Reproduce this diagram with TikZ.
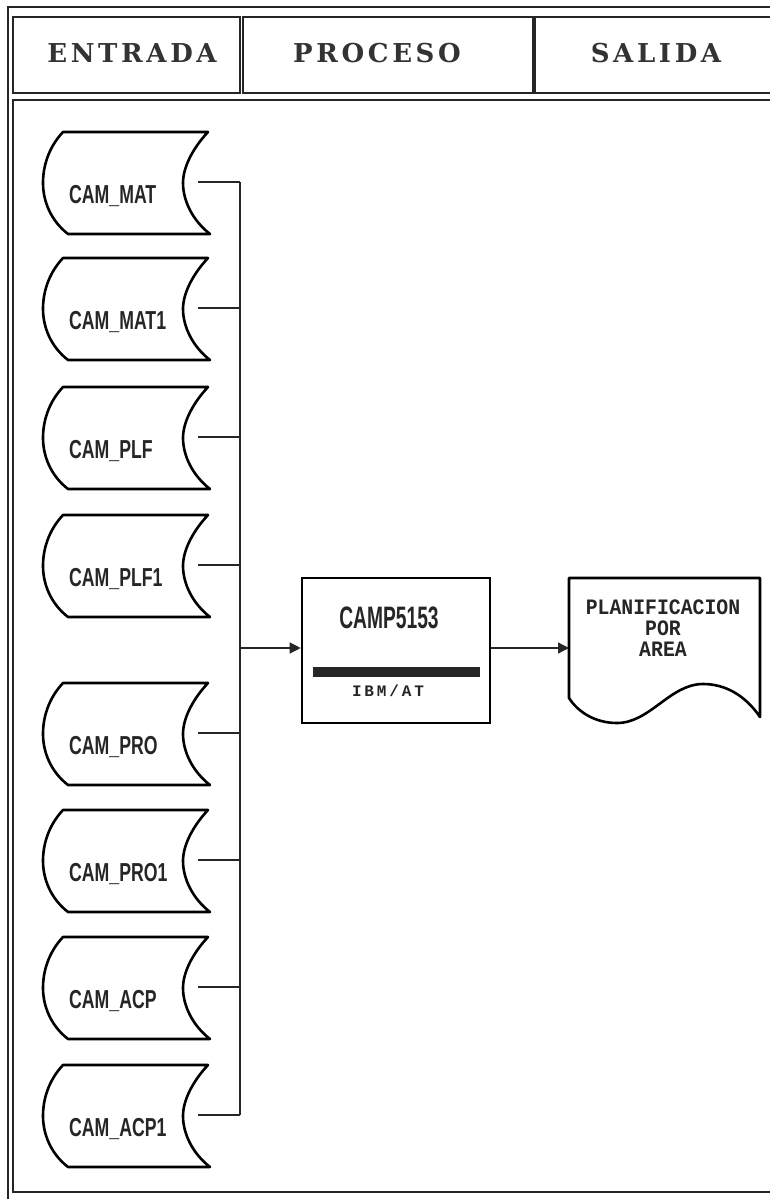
\documentclass[tikz,border=0pt]{standalone}
\usepackage{fontspec}
\usetikzlibrary{arrows.meta}
\newfontfamily\hdrfont[LetterSpace=14]{DejaVu Serif}
\newfontfamily\tapefont[FakeStretch=0.68]{Liberation Sans}
\newfontfamily\procfont[FakeStretch=0.62]{Liberation Sans}
\newfontfamily\docfont[FakeStretch=0.9]{Liberation Mono}
\newfontfamily\smallmono[LetterSpace=18]{Liberation Mono}
\tikzset{
  frame/.style={draw=black!85, line width=1.8pt},
  hbox/.style={frame, inner sep=0pt},
  hdrtext/.style={font=\hdrfont\bfseries\fontsize{26}{30}\selectfont, text=black!80},
  tape/.style={draw=black, line width=2.6pt, line join=round},
  tapelabel/.style={font=\tapefont\bfseries\fontsize{26}{28}\selectfont, text=black!85, inner sep=0pt},
  conn/.style={draw=black!85, line width=1.3pt},
  arr/.style={conn, -{Triangle[length=11pt,width=11pt]}},
  procbox/.style={draw=black, line width=2.6pt, inner sep=0pt, minimum width=188pt, minimum height=145pt},
}
\begin{document}
\begin{tikzpicture}[x=1pt,y=-1pt]
\useasboundingbox (0,0) rectangle (770,1199);
\fill[white] (0,0) rectangle (770,1199);
% frames
\draw[frame] (8,7) rectangle (790,1215);
\draw[frame] (13,100) rectangle (790,1192);
\node[hbox, minimum width=227pt, minimum height=76pt] (hin) at (126.5,55) {};
\node[hbox, minimum width=290pt, minimum height=76pt] (hproc) at (388,55) {};
\node[hbox, minimum width=250pt, minimum height=76pt] (hout) at (660,55) {};
\node[hdrtext] (tin) at (132,53) {ENTRADA};
\node[hdrtext] (tproc) at (377,53) {PROCESO};
\node[hdrtext] (tout) at (656,53) {SALIDA};
% tapes
\foreach \n/\t/\lab in {mat/132/CAM\_MAT, mata/258/CAM\_MAT1, plf/387/CAM\_PLF, plfa/515/CAM\_PLF1,
                         pro/683/CAM\_PRO, proa/810/CAM\_PRO1, acp/937/CAM\_ACP, acpa/1065/CAM\_ACP1}{
  \draw[tape] (63,\t) -- (208,\t)
     .. controls (193,\t+16) and (183,\t+35) .. (183,\t+51)
     .. controls (183,\t+68) and (192,\t+88) .. (210,\t+102)
     -- (68,\t+102)
     .. controls (50,\t+88) and (43,\t+68) .. (43,\t+51)
     .. controls (43,\t+35) and (48,\t+16) .. cycle;
  \node[tapelabel, anchor=base west] (\n) at (69,\t+71) {\lab};
  \coordinate (\n-out) at (198,\t+50);
  \coordinate (\n-bus) at (240,\t+50);
  \draw[conn] (\n-out) -- (\n-bus);
}
\draw[conn] (mat-bus) -- (acpa-bus);
\coordinate (join) at (240,648);
% process
\node[procbox] (proc) at (396,650.5) {};
\node[font=\procfont\bfseries\fontsize{31}{34}\selectfont, text=black!85, inner sep=0pt] (pname) at (389,618) {CAMP5153};
\node[fill=black!85, minimum width=167pt, minimum height=10pt, inner sep=0pt] (bar) at (396.5,672) {};
\node[font=\smallmono\bfseries\fontsize{16}{18}\selectfont, text=black!85, inner sep=0pt] (pm) at (388,691) {IBM/AT};
\draw[arr] (join) -- (join -| proc.west);
% output document
\draw[tape] (569,578) -- (760,578) -- (760,717)
   .. controls (745,695) and (725,684) .. (703,684)
   .. controls (670,684) and (650,723) .. (617,723)
   .. controls (595,723) and (578,712) .. (569,698) -- cycle;
\coordinate (docW) at (569,648);
\node[font=\docfont\bfseries\fontsize{22}{21}\selectfont, text=black!85, align=center, inner sep=0pt] (doctext) at (663,628) {PLANIFICACION\\POR\\AREA};
\draw[arr] (proc.east |- join) -- (docW);
\end{tikzpicture}
\end{document}
